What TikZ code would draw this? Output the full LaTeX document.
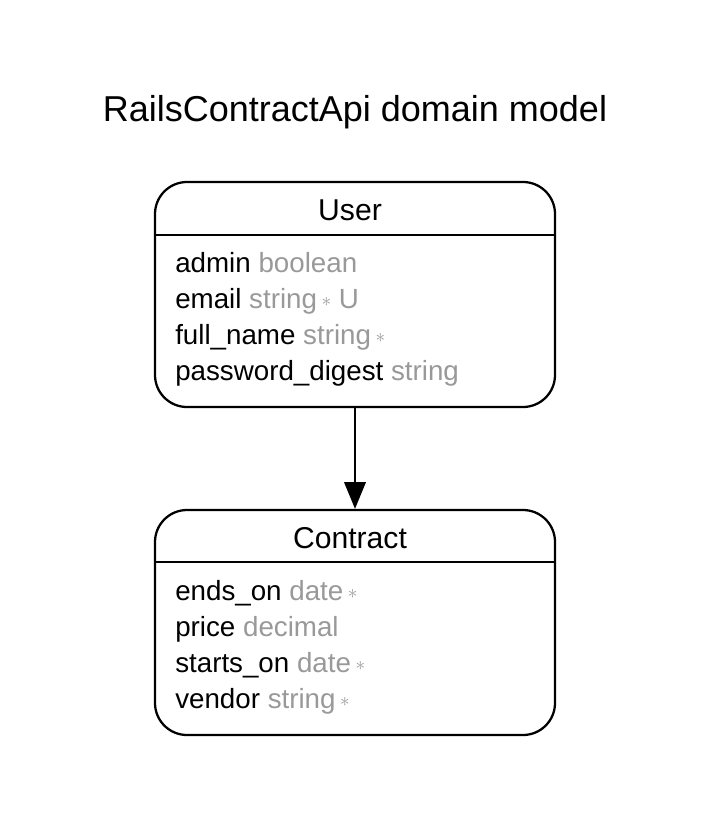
\documentclass[tikz,border=0pt]{standalone}
\usepackage{fontspec}
\setmainfont{Liberation Sans}
\usetikzlibrary{arrows.meta}
\definecolor{attrgray}{HTML}{999999}
\newcommand{\req}{\,{\color{attrgray}\raisebox{0.1ex}{\fontsize{14}{14}\selectfont$\ast$}}}
\newcommand{\ty}[1]{{\color{attrgray}#1}}
\tikzset{
  entity/.style={draw, line width=1.7pt, rounded corners=24pt, minimum width=300pt, minimum height=168.75pt, inner sep=0pt},
  header/.style={font=\fontsize{22.6}{24}\selectfont, anchor=base, inner sep=0pt},
  attr/.style={font=\fontsize{20.8}{22}\selectfont, anchor=base west, inner sep=0pt},
  sep/.style={line width=1.7pt},
  rel/.style={line width=1.7pt, -{Triangle[width=16pt,length=20pt]}},
}
\begin{document}
\begin{tikzpicture}[x=0.75pt,y=-0.75pt]
\useasboundingbox (0,0) rectangle (712,817);
\node[font=\fontsize{27}{30}\selectfont, anchor=base, inner sep=0pt] (title) at (355,121) {RailsContractApi domain model};

\node[entity] (user) at (355,294.5) {};
\node[header] (userh) at (350,220) {User};
\draw[sep] (155,235) -- (555,235);
\node[attr] (u1) at (175,272) {admin \ty{boolean}};
\node[attr] (u2) at (175,308) {email \ty{string}\req\ \ty{U}};
\node[attr] (u3) at (175,344) {full\_name \ty{string}\req};
\node[attr] (u4) at (175,380) {password\_digest \ty{string}};

\node[entity] (contract) at (355,622.5) {};
\node[header] (contracth) at (350,548) {Contract};
\draw[sep] (155,562) -- (555,562);
\node[attr] (c1) at (175,600) {ends\_on \ty{date}\req};
\node[attr] (c2) at (175,636) {price \ty{decimal}};
\node[attr] (c3) at (175,672) {starts\_on \ty{date}\req};
\node[attr] (c4) at (175,708) {vendor \ty{string}\req};

\draw[rel] (user.south) -- (contract.north);
\end{tikzpicture}
\end{document}
